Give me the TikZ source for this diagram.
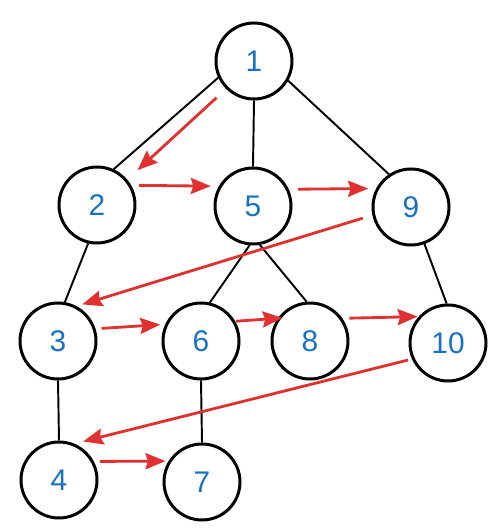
\documentclass[tikz,border=0pt]{standalone}
\usepackage{fontspec}
\setmainfont{Liberation Sans}
\usetikzlibrary{arrows.meta}

\definecolor{numblue}{RGB}{25,113,194}
\definecolor{bfsred}{RGB}{224,49,49}

\begin{document}
\begin{tikzpicture}[
    vert/.style={draw, circle, line width=1.7pt, minimum size=1.52cm, inner sep=0pt,
      text=numblue, font=\fontsize{17}{19}\selectfont},
    edge/.style={line width=1.1pt},
    bfs/.style={draw=bfsred, line width=1.6pt, -{Stealth[length=0.4cm,width=0.32cm,inset=0.05cm]}}
  ]
      \useasboundingbox (0,0) rectangle (10,10.6);
      %vertices
      \node[vert] (n1) at (5.08,9.38){1};
      \node[vert] (n2) at (1.94,6.50){2};
      \node[vert] (n5) at (5.06,6.48){5};
      \node[vert] (n9) at (8.22,6.46){9};
      \node[vert] (n3) at (1.16,3.78){3};
      \node[vert] (n6) at (4.02,3.78){6};
      \node[vert] (n8) at (6.20,3.78){8};
      \node[vert] (n10) at (8.96,3.74){10};
      \node[vert] (n4) at (1.18,1.00){4};
      \node[vert] (n7) at (4.04,0.96){7};
      %aristas
      \draw[edge] (n1.205) -- (n2.65);
      \draw[edge] (n1.south) -- (n5.north);
      \draw[edge] (n1.330) -- (n9.124);
      \draw[edge] (n2.257) -- (n3.80);
      \draw[edge] (n5.265) -- (n6.77);
      \draw[edge] (n5.280) -- (n8.95);
      \draw[edge] (n9.290) -- (n10.92);
      \draw[edge] (n3.south) -- (n4.north);
      \draw[edge] (n6.south) -- (n7.north);
      %recorrido
      \draw[bfs, shorten <=0.26cm, shorten >=0.28cm] (n1.225) -- (n2.40);
      \draw[bfs, shorten <=0.16cm, shorten >=0.16cm] (n2.30) -- (n5.150);
      \draw[bfs, shorten <=0.18cm, shorten >=0.16cm] (n5.25) -- (n9.152);
      \draw[bfs, shorten <=0.2cm, shorten >=0.12cm] (n9.192) -- (n3.62);
      \draw[bfs, shorten <=0.12cm, shorten >=0.1cm] (n3.18) -- (n6.155);
      \draw[bfs, shorten <=0.02cm, shorten >=-0.1cm] (n6.30) -- (n8.145);
      \draw[bfs, shorten <=0.14cm, shorten >=0.02cm] (n8.35) -- (n10.138);
      \draw[bfs, shorten <=0.08cm, shorten >=0.18cm] (n10.204) -- (n4.67);
      \draw[bfs, shorten <=0.12cm, shorten >=0.06cm] (n4.28) -- (n7.148);
\end{tikzpicture}
\end{document}
